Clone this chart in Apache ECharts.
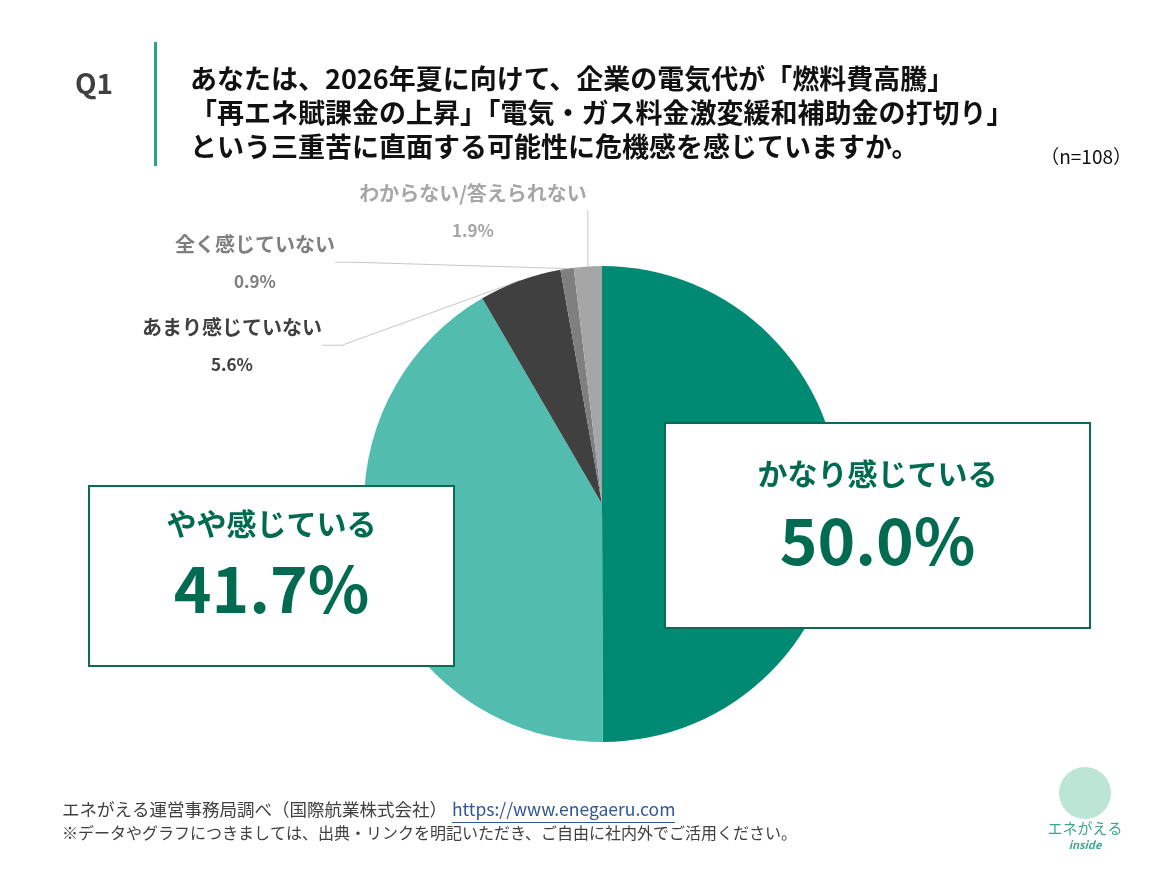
<!DOCTYPE html>
<html>
<head>
<meta charset="utf-8">
<title>Q1</title>
<script src="https://cdn.jsdelivr.net/npm/echarts@6/dist/echarts.min.js"></script>
<style>
  html, body { margin: 0; padding: 0; background: #fff; }
  #chart { width: 1159px; height: 869px; }
</style>
</head>
<body>
<div id="chart"></div>
<script>
// 回答カテゴリ（12時から時計回り）
var answers = ['かなり感じている', 'やや感じている', 'あまり感じていない', '全く感じていない', 'わからない/答えられない'];
var shares = [50.0, 41.7, 5.6, 0.9, 1.9];
var sliceColors = ['#008A73', '#52BDAF', '#404040', '#7F7F7F', '#A6A6A6'];
var labelColors = ['#006B50', '#006B50', '#404040', '#7F7F7F', '#A6A6A6'];

var titleLines = [
  'あなたは、2026年夏に向けて、企業の電気代が「燃料費高騰」',
  '「再エネ賦課金の上昇」「電気・ガス料金激変緩和補助金の打切り」',
  'という三重苦に直面する可能性に危機感を感じていますか。'
];
var sampleText = '（n=108）';

var font = '"Noto Sans CJK JP", "Noto Sans", sans-serif';

// ラベル位置（中心）
var labelSpots = [
  { x: 877.5, y: 525.5 },
  { x: 271.5, y: 576 },
  { x: 232, y: 346 },
  { x: 255, y: 263 },
  { x: 473, y: 212 }
];

var chart = echarts.init(document.getElementById('chart'));

var pieData = answers.map(function (name, i) {
  var big = i < 2;
  var item = {
    name: name,
    value: shares[i],
    itemStyle: { color: sliceColors[i] }
  };
  if (big) {
    item.label = {
      backgroundColor: '#fff',
      borderColor: '#0F6B4F',
      borderWidth: 2,
      width: i === 0 ? 423 : 363,
      padding: i === 0 ? [25, 0, 44, 0] : [12, 0, 36, 0],
      rich: {
        n: { fontSize: 30, fontWeight: 'bold', color: labelColors[i], lineHeight: 50, align: 'center', fontFamily: font },
        v: { fontSize: 64, fontWeight: 'bold', color: labelColors[i], lineHeight: i === 0 ? 84 : 80, align: 'center', fontFamily: font }
      }
    };
    item.labelLine = { show: false };
  } else {
    item.label = {
      rich: {
        n: { fontSize: 20, fontWeight: 'bold', color: labelColors[i], lineHeight: 37, align: 'center', fontFamily: font },
        v: { fontSize: 17, fontWeight: 'bold', color: labelColors[i], lineHeight: 37, align: 'center', fontFamily: font }
      }
    };
  }
  return item;
});

chart.setOption({
  backgroundColor: '#fff',
  animation: false,
  title: [{
    text: 'Q1',
    left: 70,
    top: 64,
    textStyle: { fontSize: 28, fontWeight: 'bold', color: '#404040', fontFamily: font }
  }, {
    text: titleLines.join('\n'),
    left: 185,
    top: 57,
    textStyle: { fontSize: 27, fontWeight: 'bold', color: '#111', lineHeight: 34, fontFamily: font }
  }, {
    text: sampleText,
    right: 22,
    top: 142,
    textStyle: { fontSize: 19, fontWeight: 'normal', color: '#111', fontFamily: font }
  }],
  graphic: [
    { type: 'rect', shape: { x: 154, y: 42, width: 3, height: 124 }, style: { fill: '#2AA08A' } },
    { type: 'text', left: 62, top: 801, style: { text: 'エネがえる運営事務局調べ（国際航業株式会社）', font: '17.5px ' + font, fill: '#404040' } },
    { type: 'text', left: 452, top: 801, style: { text: 'https://www.enegaeru.com', font: '17.5px ' + font, fill: '#2F5597' } },
    { type: 'rect', shape: { x: 452, y: 822, width: 223, height: 1 }, style: { fill: '#2F5597' } },
    { type: 'text', left: 62, top: 825, style: { text: '※データやグラフにつきましては、出典・リンクを明記いただき、ご自由に社内外でご活用ください。', font: '16px ' + font, fill: '#404040' } },
    { type: 'circle', shape: { cx: 1085, cy: 793, r: 26 }, style: { fill: '#BDE5D6' } },
    { type: 'text', x: 1085, y: 828, style: { text: 'エネがえる', font: '15px ' + font, fill: '#3AA88E', align: 'center', verticalAlign: 'middle' } },
    { type: 'text', x: 1085, y: 845, style: { text: 'inside', font: 'italic bold 11px ' + font, fill: '#3AA88E', align: 'center', verticalAlign: 'middle' } }
  ],
  series: [{
    type: 'pie',
    center: [602, 504],
    radius: 238,
    startAngle: 90,
    clockwise: true,
    avoidLabelOverlap: false,
    itemStyle: { borderWidth: 0 },
    emphasis: { disabled: true },
    label: {
      show: true,
      position: 'outside',
      formatter: function (p) {
        return '{n|' + p.name + '}\n{v|' + p.value.toFixed(1) + '%}';
      }
    },
    labelLine: {
      show: true,
      length: 20,
      length2: 20,
      lineStyle: { color: '#C8C8C8', width: 1 }
    },
    labelLayout: function (params) {
      var s = labelSpots[params.dataIndex];
      return { x: s.x, y: s.y, align: 'center', verticalAlign: 'middle', hideOverlap: false };
    },
    data: pieData
  }]
});
</script>
</body>
</html>
